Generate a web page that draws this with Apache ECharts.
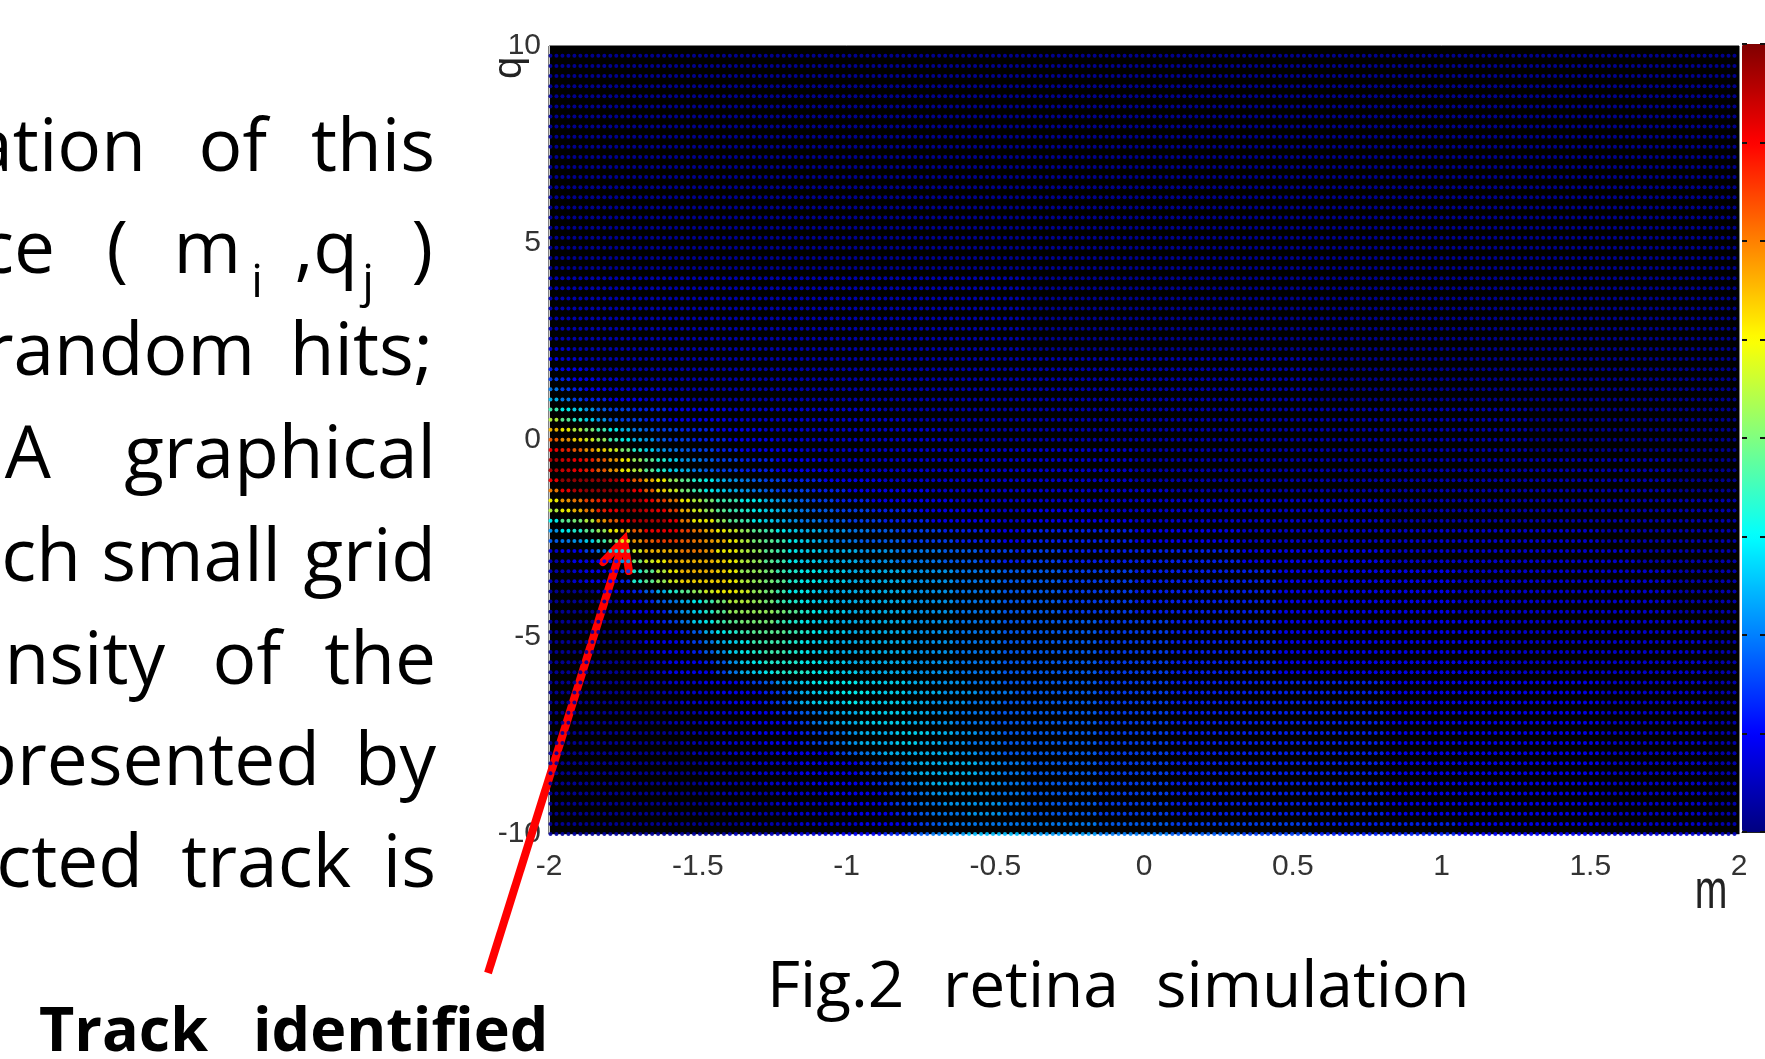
<!DOCTYPE html>
<html><head><meta charset="utf-8">
<style>html,body{margin:0;padding:0;background:#fff;overflow:hidden}#c{width:1765px;height:1059px}</style>
<script src="https://cdn.jsdelivr.net/npm/echarts@6/dist/echarts.min.js"></script>
</head><body><div id="c"></div>
<script>
// Level read per block of dots, base 36: level/4 = value on the colour bar (0..8).
// "head|tail": each head char covers 2 dots, each tail char covers 6 dots.
const cellRows = [
"1111111111111111111111111111111111111111|11111111111111111111",
"1111111111111111111111111111111111111111|11111111111111111111",
"1111111111111111111111111111111111111111|11111111111111111111",
"1111111111111111111111111111111111111111|11111111111111111111",
"1111111111111111111111111111111111111111|11111111111111111111",
"1111111111111111111111111111111111111111|11111111111111111111",
"1111111111111111111111111111111111111111|11111111111111111111",
"1111111111111111111111111111111111111111|11111111111111111111",
"1111111111111111111111111111111111111111|11111111111111111111",
"1111111111111111111111111111111111111111|11111111111111111111",
"1111111111111111111111111111111111111111|11111111111111111111",
"1111111111111111111111111111111111111111|11111111111111111111",
"1111111111111111111111111111111111111111|11111111111111111111",
"1111111111111111111111111111111111111111|11111111111111111111",
"1111111111111111111111111111111111111111|11111111111111111111",
"1111111111111111111111111111111111111111|11111111111111111111",
"1111111111111111111111111111111111111111|11111111111111111111",
"1111111111111111111111111111111111111111|11111111111111111111",
"1111111111111111111111111111111111111111|11111111111111111111",
"1111111111111111111111111111111111111111|11111111111111111111",
"1111111111111111111111111111111111111111|11111111111111111111",
"1111111111111111111111111111111111111111|11111111111111111111",
"2222222222222222222222222222222222222222|11111111111111111111",
"2222222222222222222222222222222222222222|11111111111111111111",
"2222222222222222222222222222222222222222|11111111111111111111",
"2222222222222222222222222222222222222222|11111111111111111111",
"2222222222222222222222222222222222222222|11111111111111111111",
"2222222222222222222222222222222222222222|11111111111111111111",
"2222222222222222222222222222222222222222|11111111111111111111",
"3322222222222222222222222222222222222222|11111111111111111111",
"4332222222222222222222222222222222222222|22222222111111111111",
"5443222222222222222222222222222222222222|22222222111111111111",
"6544332222222222222222222222222222222222|22222222111111111111",
"8654433333222222222222222222222222222222|22222222111111111111",
"a865544433332222222222222222222222222222|22222222111111111111",
"ecb9766555444443333333333333222222222222|22222222222222111111",
"ifdb976655444443333333333333332222222222|22222222222222111111",
"mkigeca876655544443333333333333332222222|22222222222222111111",
"pnljheca97665554444333333333333333222222|22222222222222111111",
"srpnljgdb9876655444443333333333333333333|33322222222222111111",
"utsrpnkhfdb98766555444433333333333333333|33322222222222222211",
"utsrpnkifdba8766555444443333333333333333|33322222222222222211",
"svvvvuspmkhfdca9876655544444333333333333|33322222222222222211",
"osuvvvuspljgecba987666555444444433333333|33332222222222222211",
"knoqrtuusqokigeecca987665554444444333333|33333333332222222222",
"ikmorsuutsqmjhfedcba98776665555444444333|44333333332222222222",
"cfginpsuuusokkhfecba98877666555544444433|44433333332222222222",
"9cdfhkmpsssqomkjhfecbaa99887766665555444|55544433333333332222",
"789begjnpqqponmkigfecba98877776666555544|55544433333333332222",
"34468bejmmmoonkkihfecbbaaa99988887776665|65555544443333333222",
"23444 59gjkmmmmlkihfecbbaaa9998888777665|65555544443333333222",
"2234446dfikmmmlkhhgedccbbaaaaa9999888877|76655554444433333322",
"2234445dfhjllllkihgfdccbbaaaaa9999888877|76655554444433333322",
"111134457adfhjkkjhgeccbaaaaaaa9999888877|76655554444433333322",
"11111244578acegiihgedcbbaaaaaa9999888877|76655554444433333322",
"111112344579bdfhhhhgfdcbbaaaaa9999888877|76655554444433333322",
"111111244568bcefgggedcbbaaaaaa9999888877|77665554444443333332",
"1111112344457acdefffedcbbaaaaa9999888877|77665554444443333332",
"11111112444568abceeedcbbaaaaaa9999888877|77665554444443333332",
"111111123444579bcdeedcbbaaaaaa9999888877|77665554444443333332",
"1111111123444579bcdddccbbaaaaa9999888877|77665554444443333332",
"1111111123444468abcdddccbbaaaa9999888877|77665554444443333332",
"1111111122333444567 9abccccbbbbaa9998887|77665555554444443332",
"111111111223334444568abbcccbbbaaa9998887|77665555554444443332",
"111111111223333444568abbbcbbbbaa99988877|77665555554444443332",
"1111111111222333444567 89aabbbbaa9988877|77665555554444443332",
"11111111112223333444568 9aabbbbaa9988877|77665555554444443332",
"11111111111222333444456789aaabbbaa998877|77665555554444443332",
"11111111111222333344456789aaabbaa9988877|77665555554444443332",
"111111111111222333344444 6789aaaaaa99887|77665555554444443332",
"1111111111111222233334444456789aaaaa9988|77665555554444443332",
"1111111111111222233334444456789aaaaa9988|77665555554444443332",
"11111111111112222233334444456789aaa99988|77665555554444443332",
"111111111111112222233334444456789999 988|77665555554444443332",
"11111111111111222223333344445678899 9998|77665555554444443332",
"1111111111111112222233333444456788 89998|77665555554444443332",
"11111111111111112222233333444456788 8888|88776666555544443332",
"111111111111111222223333444455 67899aaaa|99887766555544443332"
].map(r => r.replace(/ /g, ""));
const jetColors = ['#000080','#0000bf','#0000ff','#0040ff','#0080ff','#00bfff','#00ffff','#40ffbf','#80ff80','#bfff40','#ffff00','#ffbf00','#ff8000','#ff4000','#ff0000','#bf0000','#800000'];
const mRange = [-2, 2];
const qRange = [-10, 10];
const colourRange = [0, 8];
const dotColumns = 199, firstRowQ = 9.75;
const words = [
 ["ation",146,176],["of",267,176],["this",435,176],
 ["ce",55,278],["(",128,278],["m",241,278],[",q",358,278],[")",433,278],
 ["random",255,380],["hits;",433,380],
 ["A",51,483],["graphical",436,483],
 ["ch",81,586],["small",281,586],["grid",436,586],
 ["nsity",165,689],["of",281,689],["the",436,689],
 ["presented",320,790],["by",436,790],
 ["cted",143,892],["track",351,892],["is",436,892]
];
const subs = [["i",257,300],["j",368,300]];
const caption = [["Fig.2",767,1012],["retina",943,1012],["simulation",1156,1012]];
const callout = [["Track",39,1056],["identified",253,1056]];
const arrowShaft = [[488,973],[622,546]];
const arrowHead = [[603,562],[624,540],[629,571]];

const data = [];
const rowStep = (firstRowQ + 10) / (cellRows.length - 1);
cellRows.forEach((row, k) => {
  const [head, tail] = row.split("|");
  const q = firstRowQ - k * rowStep;
  for (let col = 0; col < dotColumns; col++) {
    const ch = col < 80 ? head[Math.min(col >> 1, head.length - 1)]
                        : tail[Math.min(Math.floor((col - 80) / 6), tail.length - 1)];
    data.push([-1.995 + col * 4 / dotColumns, q, parseInt(ch, 36) / 4]);
  }
});

const FONT = '"Open Sans"';
function txt(s, x, base, align, size, weight) {
  return {type:'text', z:50, x:x, y:base - size*0.36,
    style:{text:s, fill:'#000', font:(weight||'normal')+' '+size+'px '+FONT, textAlign:align, textVerticalAlign:'middle'}};
}
const graphics = [];
words.forEach(w => graphics.push(txt(w[0], w[1], w[2], 'right', 73)));
subs.forEach(w => graphics.push(txt(w[0], w[1], w[2], 'center', 46)));
caption.forEach(w => graphics.push(txt(w[0], w[1], w[2], 'left', 64)));
callout.forEach(w => graphics.push(txt(w[0], w[1], w[2], 'left', 61, 'bold')));
graphics.push({type:'polyline', z:60, shape:{points:arrowShaft}, style:{stroke:'#ff0000', lineWidth:8, fill:null, lineCap:'butt'}});
graphics.push({type:'polyline', z:60, shape:{points:arrowHead}, style:{stroke:'#ff0000', lineWidth:8, fill:null, lineCap:'round', lineJoin:'miter'}});
// axis names, squeezed like the reference
graphics.push({type:'text', z:50, x:1711, y:893, scaleX:0.7, style:{text:'m', fill:'#222', font:'56px "Liberation Sans"', textAlign:'center', textVerticalAlign:'middle'}});
graphics.push({type:'text', z:50, x:510, y:68, rotation:Math.PI/2, style:{text:'q', fill:'#222', font:'40px "Liberation Sans"', textAlign:'center', textVerticalAlign:'middle'}});

const axisFont = {fontFamily:'Liberation Sans', fontSize:30, color:'#333'};
const chart = echarts.init(document.getElementById('c'), null, {renderer:'canvas', width:1765, height:1059});
chart.setOption({
  animation:false,
  backgroundColor:'#fff',
  grid:[
    {left:549, top:46, width:1190, height:788, show:true, backgroundColor:'#000', borderColor:'#000', borderWidth:1, containLabel:false, outerBoundsMode:'none'},
    {left:1742, top:44, width:23, height:788, show:false, outerBoundsMode:'none'}
  ],
  xAxis:[
    {gridIndex:0, type:'value', min:mRange[0], max:mRange[1], interval:0.5, splitLine:{show:false},
     axisLine:{show:true, onZero:false, lineStyle:{color:'#c8c8d8'}}, axisTick:{show:false},
     axisLabel:{...axisFont, margin:18, showMinLabel:true, showMaxLabel:true, hideOverlap:false}},
    {gridIndex:1, type:'value', min:0, max:1, position:'top', show:true, axisLine:{show:true, lineStyle:{color:'#222', width:1}}, axisTick:{show:false}, axisLabel:{show:false}, splitLine:{show:false}, z:10}
  ],
  yAxis:[
    {gridIndex:0, type:'value', min:qRange[0], max:qRange[1], interval:5, splitLine:{show:false},
     axisLine:{show:true, onZero:false, lineStyle:{color:'#c8c8c8'}}, axisTick:{show:false},
     axisLabel:{...axisFont, margin:8, padding:[8,0,0,0], hideOverlap:false}},
    {gridIndex:1, type:'value', min:colourRange[0], max:colourRange[1], interval:1, position:'left', axisLine:{show:false}, splitLine:{show:false},
     axisTick:{show:true, inside:true, length:5, lineStyle:{color:'#111', width:2}}, axisLabel:{show:false}, z:10, offset:0},
    {gridIndex:1, type:'value', min:colourRange[0], max:colourRange[1], interval:1, position:'right', axisLine:{show:false}, splitLine:{show:false},
     axisTick:{show:true, inside:true, length:5, lineStyle:{color:'#111', width:2}}, axisLabel:{show:false}, z:10, offset:0}
  ],
  visualMap:{type:'continuous', seriesIndex:0, dimension:2, min:colourRange[0], max:colourRange[1], calculable:false, hoverLink:false,
    left:1742, top:44, itemWidth:40, itemHeight:788, text:['',''], showLabel:false, padding:0, inRange:{color:jetColors}, z:2},
  series:[{type:'scatter', xAxisIndex:0, yAxisIndex:0, data:data, symbol:'circle', symbolSize:4, silent:true, progressive:0, large:false, clip:true, animation:false, itemStyle:{opacity:0.9}}],
  graphic:graphics
});
</script></body></html>
